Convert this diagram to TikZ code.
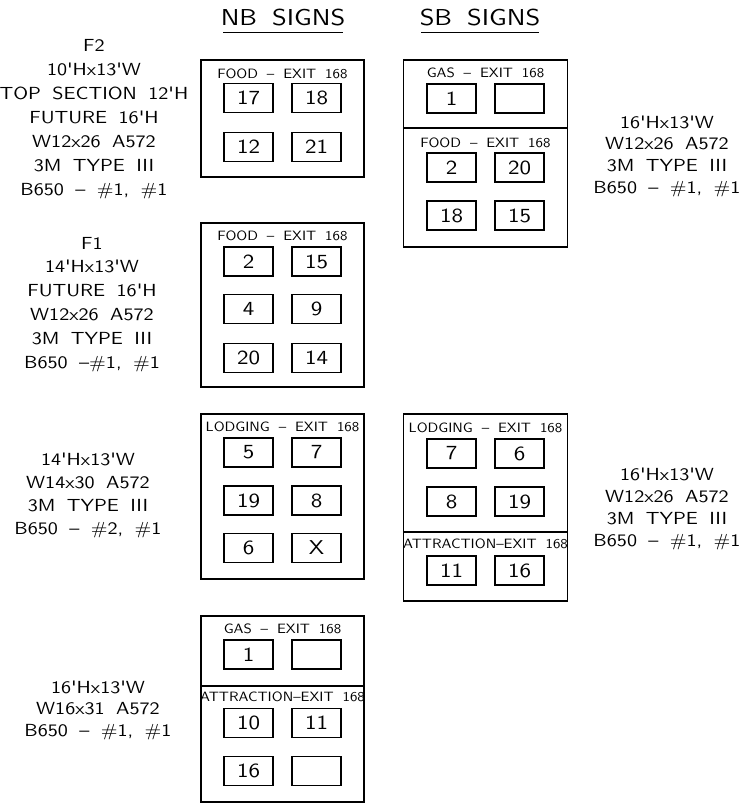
\documentclass[tikz,border=0pt]{standalone}
\usepackage{fontspec}
\newfontfamily\cadfam{lmsans10-regular.otf}[FakeStretch=1.15,WordSpace=1.7]
\newfontfamily\cadtfam{lmsans10-regular.otf}[FakeStretch=1.1,WordSpace=1.8]
\newcommand\cadL{\cadfam\fontsize{17.5}{21}\selectfont}
\newcommand\cadT{\cadtfam\fontsize{13.5}{16}\selectfont}
\newcommand\cadN{\cadfam\fontsize{20}{24}\selectfont}
\newcommand\cadH{\cadfam\fontsize{23}{27}\selectfont}
\begin{document}
\begin{tikzpicture}[x=1pt,y=-1pt,
  panel/.style={draw, line width=1.5pt, inner sep=0pt},
  cell/.style={draw, line width=1.5pt, inner sep=0pt, minimum width=49pt, minimum height=29pt, font=\cadN},
  ttl/.style={font=\cadT, inner sep=0pt, anchor=base},
  lbl/.style={font=\cadL, inner sep=0pt, anchor=base},
  hdr/.style={font=\cadH, inner sep=0pt, anchor=base},
  rule/.style={line width=1pt},
  divider/.style={line width=1.5pt}]
\useasboundingbox (0,0) rectangle (752,803);

% headers
\node[hdr] (nbh) at (283,25) {NB SIGNS};
\node[hdr] (sbh) at (480,25) {SB SIGNS};
\coordinate (nbu1) at (223,32); \coordinate (nbu2) at (343,32);
\coordinate (sbu1) at (421,32); \coordinate (sbu2) at (539,32);
\draw[rule] (nbu1) -- (nbu2);
\draw[rule] (sbu1) -- (sbu2);

% NB panel A
\node[panel, minimum width=163pt, minimum height=117pt] (nbA) at (282.5,118.5) {};
\node[ttl] (nbAt) at (282.5,78.7) {FOOD – EXIT 168};
\node[cell] (nbA1) at (248.5,98) {17};
\node[cell] (nbA2) at (316.5,98) {18};
\node[cell] (nbA3) at (248.5,147) {12};
\node[cell] (nbA4) at (316.5,147) {21};

% NB panel B
\node[panel, minimum width=163pt, minimum height=164pt] (nbB) at (282.5,305) {};
\node[ttl] (nbBt) at (282.5,240.7) {FOOD – EXIT 168};
\node[cell] (nbB1) at (248.5,261.5) {2};
\node[cell] (nbB2) at (316.5,261.5) {15};
\node[cell] (nbB3) at (248.5,309) {4};
\node[cell] (nbB4) at (316.5,309) {9};
\node[cell] (nbB5) at (248.5,358) {20};
\node[cell] (nbB6) at (316.5,358) {14};

% NB panel C
\node[panel, minimum width=163pt, minimum height=165pt] (nbC) at (282.5,496.5) {};
\node[ttl] (nbCt) at (282.5,431.7) {LODGING – EXIT 168};
\node[cell] (nbC1) at (248.5,452.5) {5};
\node[cell] (nbC2) at (316.5,452.5) {7};
\node[cell] (nbC3) at (248.5,500.5) {19};
\node[cell] (nbC4) at (316.5,500.5) {8};
\node[cell] (nbC5) at (248.5,548) {6};
\node[cell] (nbC6) at (316.5,548) {X};

% NB panel D
\node[panel, minimum width=163pt, minimum height=186pt] (nbD) at (282.5,709) {};
\coordinate (nbDd) at (282.5,686);
\draw[divider] (nbD.west |- nbDd) -- (nbD.east |- nbDd);
\node[ttl] (nbDt1) at (282.5,633.7) {GAS – EXIT 168};
\node[cell] (nbD1) at (248.5,654.5) {1};
\node[cell] (nbD2) at (316.5,654.5) {};
\node[ttl] (nbDt2) at (282.5,701.7) {ATTRACTION–EXIT 168};
\node[cell] (nbD3) at (248.5,723) {10};
\node[cell] (nbD4) at (316.5,723) {11};
\node[cell] (nbD5) at (248.5,771) {16};
\node[cell] (nbD6) at (316.5,771) {};

% SB panel A
\node[panel, minimum width=164pt, minimum height=187pt] (sbA) at (485.5,153.5) {};
\coordinate (sbAd) at (485.5,128);
\draw[divider] (sbA.west |- sbAd) -- (sbA.east |- sbAd);
\node[ttl] (sbAt1) at (485.5,77.7) {GAS – EXIT 168};
\node[cell] (sbA1) at (451.5,98.5) {1};
\node[cell] (sbA2) at (519.5,98.5) {};
\node[ttl] (sbAt2) at (485.5,147.7) {FOOD – EXIT 168};
\node[cell] (sbA3) at (451.5,167.5) {2};
\node[cell] (sbA4) at (519.5,167.5) {20};
\node[cell] (sbA5) at (451.5,215.5) {18};
\node[cell] (sbA6) at (519.5,215.5) {15};

% SB panel B
\node[panel, minimum width=164pt, minimum height=187pt] (sbB) at (485.5,507.5) {};
\coordinate (sbBd) at (485.5,532);
\draw[divider] (sbB.west |- sbBd) -- (sbB.east |- sbBd);
\node[ttl] (sbBt1) at (485.5,432.7) {LODGING – EXIT 168};
\node[cell] (sbB1) at (451.5,453.5) {7};
\node[cell] (sbB2) at (519.5,453.5) {6};
\node[cell] (sbB3) at (451.5,501.5) {8};
\node[cell] (sbB4) at (519.5,501.5) {19};
\node[ttl] (sbBt2) at (485.5,548.7) {ATTRACTION–EXIT 168};
\node[cell] (sbB5) at (451.5,570.5) {11};
\node[cell] (sbB6) at (519.5,570.5) {16};

% left and right descriptions
\foreach \t [count=\i from 0] in {F2, {10'Hx13'W}, {TOP SECTION 12'H}, {FUTURE 16'H}, {W12x26 A572}, {3M TYPE III}, {B650 – \#1, \#1}}
  \node[lbl] (f2-\i) at (94, 51.1+24*\i) {\t};
\foreach \t [count=\i from 0] in {F1, {14'Hx13'W}, {FUTURE 16'H}, {W12x26 A572}, {3M TYPE III}, {B650 –\#1, \#1}}
  \node[lbl] (f1-\i) at (92, 249.1+23.8*\i) {\t};
\foreach \t [count=\i from 0] in {{14'Hx13'W}, {W14x30 A572}, {3M TYPE III}, {B650 – \#2, \#1}}
  \node[lbl] (lg-\i) at (88, 465.1+23*\i) {\t};
\foreach \t [count=\i from 0] in {{16'Hx13'W}, {W16x31 A572}, {B650 – \#1, \#1}}
  \node[lbl] (bt-\i) at (98, 693.1+21.5*\i) {\t};
\foreach \t [count=\i from 0] in {{16'Hx13'W}, {W12x26 A572}, {3M TYPE III}, {B650 – \#1, \#1}}
  \node[lbl] (ra-\i) at (667, 128.1+21.7*\i) {\t};
\foreach \t [count=\i from 0] in {{16'Hx13'W}, {W12x26 A572}, {3M TYPE III}, {B650 – \#1, \#1}}
  \node[lbl] (rb-\i) at (667, 480.1+22*\i) {\t};
\end{tikzpicture}
\end{document}
